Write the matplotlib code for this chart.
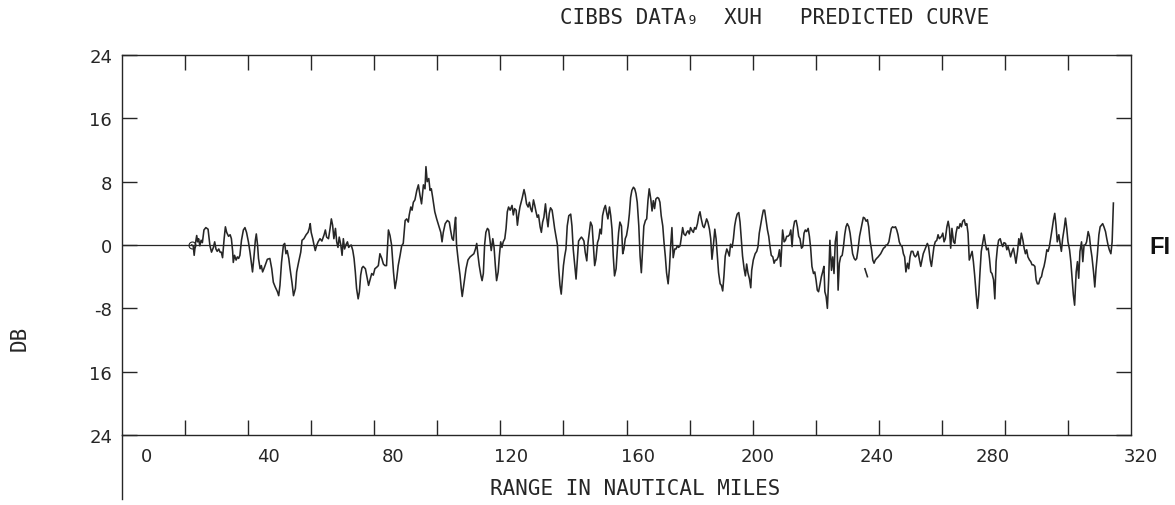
import numpy as np
import matplotlib
matplotlib.use("Agg")
import matplotlib.pyplot as plt

# signal level vs range
range_nm = np.array([
    22.1, 22.6, 22.9, 23.3, 23.7, 24.0, 24.3, 24.7, 25.1, 25.5,
    26.0, 26.6, 27.3, 27.9, 28.4, 29.0, 29.4, 29.8, 30.2, 30.7,
    31.1, 31.5, 31.9, 32.4, 32.8, 33.2, 33.8, 34.3, 34.7, 35.1,
    35.3, 35.7, 36.2, 36.6, 37.0, 37.4, 37.9, 38.5, 39.0, 39.5,
    40.1, 40.6, 41.0, 41.4, 41.9, 42.3, 42.6, 43.0, 43.3, 43.8,
    44.2, 44.6, 45.2, 46.1, 46.9, 47.5, 48.0, 48.6, 49.3, 49.7,
    50.1, 50.6, 51.2, 51.6, 52.0, 52.4, 52.9, 53.3, 53.9, 54.4,
    55.0, 55.4, 56.0, 56.7, 57.1, 57.7, 58.4, 59.0, 59.4, 59.7,
    60.0, 60.5, 60.9, 61.3, 61.7, 62.2, 62.8, 63.4, 64.1, 64.5,
    64.9, 65.5, 66.0, 66.4, 66.8, 67.2, 67.7, 68.1, 68.5, 68.9,
    69.4, 69.8, 70.2, 70.6, 71.0, 71.5, 71.9, 72.3, 72.7, 73.2,
    73.6, 74.0, 74.4, 74.9, 75.3, 75.7, 76.1, 76.5, 77.2, 77.8,
    78.2,
    79.2, 79.7, 80.2, 80.8, 81.3, 81.8, 82.4, 82.9, 83.4, 83.9,
    84.5, 85.0, 85.5, 86.1, 86.6, 87.1, 87.6, 88.2, 88.7, 89.2,
    89.8, 90.3, 90.8, 91.1, 91.6, 92.0, 92.4, 92.9, 93.5, 94.0,
    94.5, 95.0, 95.6, 96.1, 96.4, 96.8, 97.3, 97.7, 98.1, 98.5,
    99.2, 99.8, 100.4, 101.1, 101.5, 101.9, 102.5, 103.2, 103.8, 104.2,
    104.7, 105.1, 105.5, 105.8, 106.1, 106.7, 107.2, 107.6, 107.9, 108.5,
    109.1, 109.7, 110.4, 111.0, 111.6, 112.1, 112.5, 112.9, 113.3, 113.8,
    114.2, 114.6, 115.0, 115.4, 115.9, 116.3, 116.7, 117.1, 117.6, 118.0,
    118.4, 118.8, 119.3, 119.7, 120.1, 120.5, 120.9, 121.4, 121.8, 122.2,
    122.6, 123.1, 123.7, 124.1, 124.5, 125.0, 125.4, 125.8, 126.2, 126.9,
    127.5, 127.9, 128.3, 128.8, 129.2, 129.6, 130.0, 130.5, 130.9, 131.3,
    131.7, 132.1, 132.6, 133.0, 133.4, 133.8, 134.3, 134.7, 135.1, 135.5,
    135.9, 136.4, 136.8, 137.2, 137.6, 138.1, 138.5, 138.9, 139.3,
    140.0, 140.4, 140.8, 141.2, 141.7, 142.3, 142.7, 143.1, 143.6, 144.0,
    144.4, 144.8, 145.3, 145.7, 146.1, 146.5, 146.9, 147.4, 147.8, 148.2,
    148.6, 149.1, 149.5, 149.9, 150.3, 150.8, 151.2, 151.6, 152.0, 152.4,
    152.9, 153.3, 153.7, 154.1, 154.6, 155.0, 155.4, 155.8, 156.2, 156.7,
    157.1, 157.5, 157.9, 158.4, 158.8, 159.2, 159.6, 160.0, 160.5, 160.9,
    161.3, 161.7, 162.2, 162.6, 163.0, 163.4, 163.9, 164.3, 164.7, 165.1,
    165.5, 166.0, 166.4, 166.8, 167.2, 167.7, 168.1, 168.5, 168.9, 169.3,
    169.8, 170.2, 170.6, 171.0, 171.5, 171.9, 172.3, 172.7, 173.2, 173.6,
    174.0, 174.4, 174.8, 175.3, 175.7, 176.1, 176.5, 177.0, 177.4, 177.8,
    178.2, 178.7, 179.1, 179.5, 179.9, 180.3, 180.8, 181.2, 181.6, 182.0,
    182.5, 182.9, 183.3, 183.7, 184.2, 184.6, 185.0, 185.4, 185.8, 186.3,
    186.7, 187.1, 187.5, 188.0, 188.4, 188.8, 189.2, 189.7, 190.1, 190.5,
    190.9, 191.3, 191.8, 192.2, 192.6, 193.0, 193.5, 193.9, 194.3, 194.7,
    195.1, 195.6, 196.0, 196.4, 196.8, 197.3, 197.7, 198.1, 198.5, 199.0,
    199.4, 199.7, 200.2, 200.8, 201.3, 201.7, 202.1, 202.6, 203.0, 203.4,
    203.8, 204.3, 204.7, 205.1, 205.5, 205.9, 206.4, 206.8, 207.2, 207.6,
    208.1, 208.5, 208.9, 209.3, 209.5, 210.0, 210.4, 210.8, 211.2, 211.7,
    212.1, 212.5, 212.9, 213.3, 213.8, 214.2, 214.6, 215.0, 215.5, 215.9,
    216.3, 216.7, 217.1, 217.6, 218.0, 218.4, 218.8, 219.3, 219.7, 220.1,
    220.5, 220.9, 221.4, 221.8, 222.2, 222.6, 222.9, 223.3, 223.7, 224.1,
    224.5, 225.0, 225.4, 225.8, 226.2, 226.7, 227.1, 227.5, 227.9, 228.4,
    228.8, 229.2, 229.6, 230.0, 230.5, 230.9, 231.3, 231.7, 232.2, 232.6,
    233.0, 233.4, 233.9, 234.3, 234.7, 235.1, 235.5, 236.0, 236.4, 236.8,
    237.2, 237.7, 238.1, 238.5, 238.9, 239.3, 239.8, 240.2, 240.6, 241.0,
    241.5, 241.9, 242.3, 242.7, 243.2, 243.6, 244.0, 244.4, 244.8, 245.3,
    245.7, 246.1, 246.5, 246.9, 247.4, 247.8, 248.2, 248.6, 249.1, 249.5,
    249.9, 250.3, 250.8, 251.2, 251.6, 252.0, 252.4, 252.9, 253.3, 253.7,
    254.1, 254.6, 255.0, 255.4, 255.8, 256.3, 256.7, 257.1, 257.5, 257.9,
    258.4, 258.8, 259.2,
    259.9, 260.3, 260.7, 261.1, 261.6, 262.0, 262.4, 262.8, 263.2, 263.7,
    264.1, 264.5, 264.9, 265.4, 265.8, 266.2, 266.6, 267.1, 267.5, 267.9,
    268.3, 268.7, 269.2, 269.6, 270.0, 270.4, 270.9, 271.3, 271.7, 272.1,
    272.5, 273.0, 273.4, 273.8, 274.2, 274.7, 275.1, 275.5, 275.9, 276.4,
    276.8, 277.2, 277.6, 278.0, 278.5, 278.9, 279.3, 279.7, 280.2, 280.6,
    281.0, 281.4, 281.8, 282.3, 282.7, 283.1, 283.5, 284.0, 284.4, 284.8,
    285.2, 285.7, 286.1, 286.5, 286.9, 287.3, 287.8, 288.2, 288.6, 289.0,
    289.5, 289.9, 290.3, 290.7, 291.2, 291.6, 292.0, 292.4, 292.8, 293.3,
    293.7, 294.1, 294.5, 295.0, 295.4, 295.8, 296.2, 296.6, 297.1, 297.5,
    297.9, 298.3, 298.8, 299.2, 299.6, 300.0, 300.5, 300.9, 301.3, 301.7,
    302.1, 302.6, 303.0, 303.4, 303.8, 304.3, 304.7, 305.1, 305.5, 305.9,
    306.4, 306.8, 307.2, 307.6, 308.1, 308.5, 308.9, 309.3, 309.8, 310.2,
    310.6, 311.0, 311.4, 311.9, 312.3, 312.7, 313.1, 313.6, 314.0, 314.4,
])

level_db = np.array([
    0.0, -0.1, -1.3, 0.2, 1.2, 0.4, 0.8, -0.1, 0.6, 0.3,
    1.9, 2.2, 2.0, -0.1, -0.9, -0.3, 0.4, -0.5, -0.8, -0.5,
    -0.9, -0.9, -1.6, 0.8, 2.3, 1.6, 1.1, 1.3, 0.8, -0.8,
    -2.2, -1.3, -1.9, -1.5, -1.7, -1.3, 0.6, 1.9, 2.2, 1.6,
    0.4, -0.9, -2.2, -3.4, -1.3, 0.6, 1.4, 0.0, -1.7, -3.0,
    -2.6, -3.4, -2.8, -1.8, -1.7, -3.0, -4.7, -5.3, -5.9, -6.4,
    -5.1, -2.2, 0.0, 0.2, -1.1, -0.7, -1.7, -3.0, -4.7, -6.4,
    -5.5, -3.4, -2.2, -0.9, 0.6, 0.8, 1.3, 1.6, 2.1, 2.7,
    1.6, 0.8, 0.0, -0.7, -0.1, 0.4, 0.8, 0.5, 1.3, 1.9,
    1.0, 0.8, 2.1, 3.3, 2.5, 0.8, 2.1, 0.4, -0.3, 1.0,
    0.0, -1.3, 0.8, -0.5, 0.0, 0.4, -0.3, -0.1, 0.0, -0.7,
    -1.7, -3.4, -5.5, -6.8, -5.9, -3.8, -2.9, -2.7, -3.0, -4.3,
    -5.1,
    -3.6, -3.8, -3.0, -2.8, -2.6, -1.1, -1.7, -2.4, -2.6, -2.6,
    1.9, 1.2, 0.0, -3.4, -5.5, -4.3, -2.6, -1.3, -0.1, 0.2,
    3.1, 3.3, 2.9, 3.8, 4.8, 4.4, 5.4, 5.7, 6.9, 7.6,
    6.3, 5.2, 7.6, 7.1, 9.9, 8.0, 8.4, 6.9, 7.1, 6.1,
    4.2, 3.3, 2.5, 1.6, 0.4, 1.6, 2.7, 3.1, 2.9, 1.9,
    0.8, 0.6, 2.5, 3.5, 0.0, -2.2, -3.8, -5.5, -6.5, -4.7,
    -3.0, -1.9, -1.5, -1.3, -1.1, -0.5, 0.2, -1.3, -2.6, -3.8,
    -4.5, -3.6, 0.0, 1.6, 2.1, 1.9, 0.6, -0.7, 0.8, -0.3,
    -2.6, -4.5, -3.4, -1.3, 0.4, -0.3, 0.4, 0.8, 2.1, 4.2,
    4.8, 4.4, 5.0, 3.8, 4.6, 4.4, 2.5, 3.8, 4.8, 5.9,
    7.0, 6.3, 5.2, 4.8, 5.4, 4.6, 4.2, 5.7, 5.0, 4.2,
    3.5, 3.8, 2.3, 1.6, 2.9, 3.5, 5.2, 3.5, 2.3, 4.0,
    4.7, 4.4, 3.3, 2.1, 1.2, 0.0, -3.0, -5.1, -6.2,
    -2.6, -1.4, -0.5, 2.4, 3.7, 3.9, 2.4, -0.5, -2.6, -4.3,
    -1.8, 0.5, 0.8, 1.0, 0.8, 0.5, -0.9, -2.0, 0.3, 1.6,
    2.9, 2.4, -0.1, -2.6, -1.8, 0.3, 0.8, 2.0, 1.4, 3.7,
    4.6, 5.0, 4.1, 3.3, 4.8, 3.7, 2.0, -1.4, -3.9, -3.0,
    -0.5, 1.6, 2.9, 2.4, -1.1, -0.5, 0.8, 1.2, 2.4, 3.9,
    6.0, 6.9, 7.3, 7.1, 6.5, 5.4, 2.4, -1.4, -3.5, -0.5,
    2.4, 3.1, 3.3, 5.6, 7.1, 5.8, 4.3, 5.6, 4.6, 5.8,
    6.0, 5.9, 5.4, 3.7, 2.4, 0.3, -1.4, -3.5, -4.9, -3.0,
    -0.1, 2.2, -1.6, -0.5, -0.5, -0.1, -0.3, -0.1, 1.0, 2.2,
    1.4, 1.2, 1.6, 1.8, 1.4, 2.2, 1.8, 1.6, 2.2, 2.0,
    2.7, 3.7, 4.2, 3.3, 2.4, 2.2, 2.7, 3.3, 2.9, 2.0,
    0.8, -1.8, -0.3, 2.0, 0.8, -1.4, -3.5, -4.9, -5.1, -5.8,
    -3.9, -1.4, -0.5, -0.9, -1.4, 0.1, -0.3, 0.8, 2.4, 3.3,
    3.9, 4.1, 2.9, 0.8, -1.4, -3.0, -3.9, -2.4, -3.5, -4.3,
    -5.4, -3.2, -1.9, -1.1, -0.8, -0.2, 1.5, 2.7, 3.6, 4.4,
    4.4, 3.0, 1.9, 1.1, -0.2, -1.3, -1.5, -2.3, -1.9, -1.9,
    -1.5, -0.6, -2.7, 0.2, 1.9, 0.4, 0.6, 1.1, 1.1, 1.3,
    1.9, -0.2, 2.1, 3.0, 3.1, 2.3, 1.1, 0.8, -0.4, -0.2,
    1.5, 1.9, 1.7, 2.1, 1.1, -0.4, -2.7, -3.6, -3.4, -4.4,
    -5.7, -5.9, -4.9, -4.0, -3.4, -2.7, -5.9, -6.5, -8.0, -4.4,
    0.6, -3.2, -1.5, -3.6, 0.4, 1.7, -5.7, -2.3, -1.5, -1.3,
    -0.2, 1.3, 2.3, 2.7, 2.3, 1.5, 0.2, -1.1, -1.7, -1.9,
    -1.7, -0.6, 1.1, 1.9, 2.7, 3.5, 3.4, 3.0, 3.2, 2.3,
    0.6, -0.6, -1.9, -2.3, -1.9, -1.7, -1.5, -1.3, -1.1, -0.8,
    -0.4, -0.3, 0.0, 0.0, 0.4, 1.3, 2.1, 2.3, 2.2, 2.3,
    1.9, 1.3, 0.4, 0.0, -0.2, -1.1, -1.5, -3.4, -2.3, -3.0,
    -1.5, -0.8, -0.8, -1.3, -1.5, -1.3, -0.8, -1.9, -2.7, -1.9,
    -1.1, -0.6, -0.2, 0.2, -0.2, -1.9, -2.7, -1.5, -0.2, 0.4,
    0.6, 1.3, 0.8,
    1.1, 1.5, 0.4, 0.8, 2.3, 3.0, 2.1, -0.4, 2.1, 0.4,
    0.2, 1.5, 2.3, 2.1, 2.7, 2.3, 3.0, 3.2, 2.5, 2.7,
    1.5, -1.9, -1.3, -0.8, -2.1, -3.8, -6.3, -8.0, -6.3, -3.4,
    -0.8, 0.4, 1.3, 0.2, -0.6, -0.4, -1.7, -3.4, -3.6, -4.4,
    -6.8, -2.1, -0.4, 0.6, 0.8, 0.2, -0.2, 0.3, 0.2, -0.6,
    -0.2, -0.8, -1.5, -0.8, -0.4, -1.3, -2.3, -0.8, 0.8, 0.0,
    1.5, 0.6, -0.4, -1.1, -0.6, -1.5, -1.9, -2.1, -2.5, -2.5,
    -2.7, -4.4, -4.9, -4.9, -4.2, -4.0, -3.2, -2.7, -1.9, -0.6,
    -0.8, -0.2, 0.8, 2.1, 3.2, 4.0, 2.5, 0.4, 1.3, 0.2,
    -0.8, 0.8, 2.1, 3.4, 2.1, 0.4, -0.6, -2.1, -4.2, -6.3,
    -7.6, -3.4, -2.1, -4.2, -0.8, 0.4, -2.1, 0.0, 0.0, 0.4,
    1.7, 1.1, -0.4, -1.5, -3.4, -5.3, -3.0, -1.3, 1.3, 2.3,
    2.5, 2.7, 2.3, 1.7, 0.8, 0.0, -0.6, -1.1, 0.4, 5.3,
])

# short detached pen stroke below the trace
stray_nm = [235.6, 236.4]
stray_db = [-3.0, -4.0]

y_ticks = [-24, -16, -8, 0, 8, 16, 24]
y_tick_text = ["24", "16", "-8", "0", "8", "16", "24"]
x_ticks = [20, 40, 60, 80, 100, 120, 140, 160, 180, 200, 220, 240, 260, 280, 300]
x_label_values = [0, 40, 80, 120, 160, 200, 240, 280, 320]

# the plotter set the range numbers a little off their ticks (pixels)
x_label_nudge = [25, 20, 19, 11, 11, 5, -2, -12, 10]

ink = "#262626"
digits = "DejaVu Sans"
letters = "DejaVu Sans Mono"

fig = plt.figure(figsize=(11.75, 5.06), dpi=100)
ax = fig.add_axes([0.1038, 0.1383, 0.8588, 0.7510])

ax.axhline(0, color=ink, lw=0.9, zorder=1)
ax.plot(range_nm, level_db, color=ink, lw=1.15, zorder=2)
ax.plot(stray_nm, stray_db, color=ink, lw=1.15)
ax.plot(range_nm[0], level_db[0], marker="o", ms=5, mfc="none", mec=ink, mew=0.8)

ax.set_xlim(0, 320)
ax.set_ylim(-24, 24)
ax.set_xticks(x_ticks)
ax.set_yticks(y_ticks, y_tick_text)
ax.tick_params(axis="both", direction="in", length=11, width=1.0, color=ink,
               top=True, right=True, labelbottom=False)
ax.tick_params(axis="y", pad=7, labelsize=13, labelcolor=ink)
for lab in ax.get_yticklabels():
    lab.set_family(digits)
for sp in ax.spines.values():
    sp.set_color(ink)
    sp.set_linewidth(1.0)

# left frame line runs on below the bottom axis
ax.plot([0, 0], [0, -0.168], transform=ax.transAxes, clip_on=False, color=ink, lw=1.0)

for v, dx in zip(x_label_values, x_label_nudge):
    ax.annotate(str(v), xy=(v, 0), xycoords=("data", "axes fraction"),
                xytext=(dx * 0.72, -21 * 0.72), textcoords="offset points",
                ha="center", va="center", fontsize=13, family=digits, color=ink)

fig.text(635 / 1175, 1 - 489 / 506, "RANGE IN NAUTICAL MILES", ha="center", va="center",
         family=letters, fontsize=15, color=ink)
fig.text(560 / 1175, 1 - 18 / 506, "CIBBS DATA\u2089  XUH   PREDICTED CURVE", ha="left",
         va="center", family=letters, fontsize=15, color=ink)
fig.text(20 / 1175, 1 - 338 / 506, "DB", rotation=90, ha="center", va="center",
         family=letters, fontsize=15, color=ink)
fig.text(1149 / 1175, 1 - 247 / 506, "FI", ha="left", va="center", family="Liberation Sans",
         fontweight="bold", fontsize=17, color="#111111")

fig.savefig("out.png", dpi=100)
